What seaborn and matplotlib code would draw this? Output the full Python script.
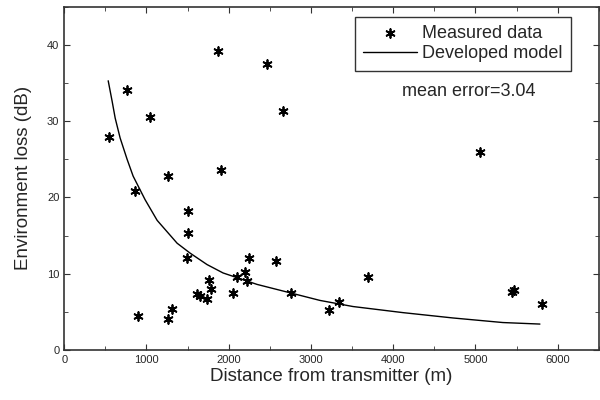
import numpy as np
import pandas as pd
import seaborn as sns
import matplotlib.pyplot as plt
from matplotlib.ticker import MultipleLocator

# measured points
dist_m = [547, 765, 1045, 863, 1264, 1871, 1908, 2467, 2661, 5055,
          1507, 1507, 1490, 895, 1264, 1312, 1610, 1650, 1737, 1766,
          1786, 2053, 2102, 2199, 2224, 2248, 2576, 2758, 3220, 3341,
          3694, 5450, 5465, 5808]
loss_db = [27.9, 34.1, 30.5, 20.8, 22.8, 39.2, 23.6, 37.5, 31.3, 25.9,
           18.2, 15.4, 12.0, 4.5, 4.1, 5.4, 7.3, 7.1, 6.7, 9.2,
           8.0, 7.5, 9.6, 10.2, 9.1, 12.1, 11.7, 7.5, 5.3, 6.3,
           9.6, 7.6, 7.9, 6.0]

# developed model curve
model_x = [535, 583, 620, 680, 765, 838, 984, 1130, 1373, 1531, 1737,
           1932, 2345, 2746, 3110, 3511, 4119, 4727, 5334, 5784]
model_y = [35.3, 32.6, 30.4, 27.8, 25.0, 22.8, 19.7, 17.0, 14.0, 12.7, 11.2,
           10.1, 8.6, 7.5, 6.5, 5.7, 4.9, 4.2, 3.6, 3.4]

sns.set_style("ticks")
plt.rcParams['font.family'] = ['Liberation Sans', 'DejaVu Sans']

fig = plt.figure(figsize=(6, 4), dpi=100)
ax = fig.add_axes([0.107, 0.125, 0.891, 0.858])

meas = pd.DataFrame({"x": dist_m, "y": loss_db})
mod = pd.DataFrame({"x": model_x, "y": model_y})

sns.scatterplot(data=meas, x="x", y="y", ax=ax, marker=(6, 2, 0), s=40,
                color="black", linewidth=1.3, label="Measured data", zorder=3)
sns.lineplot(data=mod, x="x", y="y", ax=ax, color="black", linewidth=1.0,
             label="Developed model")

ax.set_xlim(0, 6500)
ax.set_ylim(0, 45)
ax.xaxis.set_major_locator(MultipleLocator(1000))
ax.xaxis.set_minor_locator(MultipleLocator(500))
ax.yaxis.set_major_locator(MultipleLocator(10))
ax.yaxis.set_minor_locator(MultipleLocator(5))
ax.tick_params(which="both", direction="in", top=True, right=True,
               labelsize=8, color="#333333")
ax.tick_params(which="major", length=4)
ax.tick_params(which="minor", length=3)
for s in ax.spines.values():
    s.set_linewidth(1.2)
    s.set_color("#333333")

ax.set_xlabel("Distance from transmitter (m)", fontsize=13.5, labelpad=2)
ax.set_ylabel("Environment loss (dB)", fontsize=13.5, labelpad=11)

leg = ax.legend(loc="upper right", bbox_to_anchor=(0.948, 0.971), fontsize=13,
                frameon=True, fancybox=False, edgecolor="black",
                handlelength=3.0, borderpad=0.45, borderaxespad=0,
                labelspacing=0.2, handletextpad=0.3)
leg.get_frame().set_linewidth(1.0)

ax.text(0.757, 0.752, "mean error=3.04", transform=ax.transAxes,
        ha="center", va="center", fontsize=13)

fig.savefig("out.png", dpi=100)
